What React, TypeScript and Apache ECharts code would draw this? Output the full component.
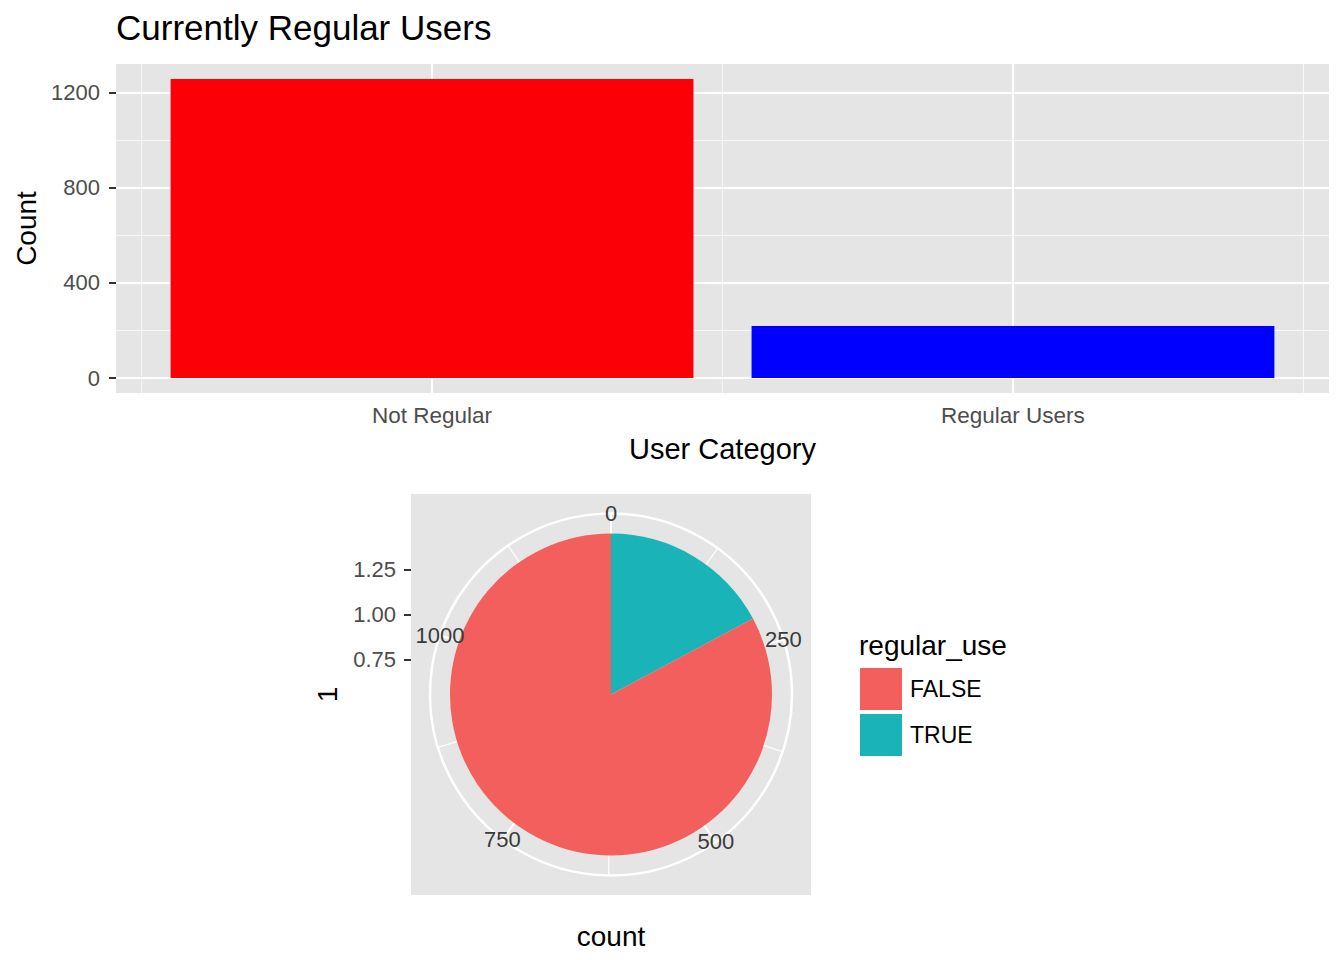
import React, { useEffect, useRef } from 'react';
import * as echarts from 'echarts';

// ---- Data: top bar chart ----
const barCategories = ['Not Regular', 'Regular Users'];
const barCounts = [1256, 219];
const barColors = ['#FB0007', '#0000FF'];
const barYMajor = [0, 400, 800, 1200];
const barYMinor = [200, 600, 1000];
const barXMajor = [1, 2];
const barXMinor = [0.5, 1.5, 2.5];

// ---- Data: pie (polar) chart ----
const pieGroups = ['FALSE', 'TRUE'];
const pieCounts = [1031, 214];
const pieColors = ['#F35F5C', '#1AB4B8'];
const thetaBreaks = [0, 250, 500, 750, 1000];
const rBreaks = [0.75, 1.0, 1.25];

const FONT = 'Liberation Sans';
const AXIS_TEXT = '#4D4D4D';
const PANEL = '#E5E5E5';

export default function App() {
  const ref = useRef<HTMLDivElement>(null);

  useEffect(() => {
    if (!ref.current) return;
    const chart = echarts.init(ref.current, null, { renderer: 'svg' });

    const yMaxBar = Math.max(...barCounts);
    const pieTotal = pieCounts.reduce((a, b) => a + b, 0);

    const majorLine = { color: '#FFFFFF', width: 2.2, type: 'solid' };
    const minorLine = { color: '#F7F7F7', width: 1.1, type: 'solid' };

    const option: any = {
      animation: false,
      backgroundColor: '#FFFFFF',
      textStyle: { fontFamily: FONT },
      title: [
        {
          text: 'Currently Regular Users',
          left: 116,
          top: 10,
          padding: 0,
          textStyle: { fontSize: 35, fontWeight: 'normal', color: '#000000', fontFamily: FONT },
        },
        {
          text: 'regular_use',
          left: 859,
          top: 631,
          padding: 0,
          textStyle: { fontSize: 28, fontWeight: 'normal', color: '#000000', fontFamily: FONT },
        },
      ],
      legend: {
        data: pieGroups,
        orient: 'vertical',
        left: 860,
        top: 668,
        padding: 0,
        itemWidth: 42,
        itemHeight: 42,
        itemGap: 4,
        icon: 'rect',
        selectedMode: false,
        textStyle: { fontSize: 23, color: '#000000', fontFamily: FONT, padding: [0, 0, 0, 3] },
      },
      grid: [
        { left: 116, top: 64, width: 1213, height: 329, show: true, backgroundColor: PANEL, borderWidth: 0 },
        { left: 411, top: 494, width: 400, height: 401, show: true, backgroundColor: PANEL, borderWidth: 0 },
      ],
      xAxis: [
        {
          gridIndex: 0,
          type: 'value',
          min: 0.456,
          max: 2.544,
          axisLine: { show: false },
          splitLine: { show: false },
          axisTick: { show: true, customValues: barXMajor, length: 7, lineStyle: { color: '#333333', width: 2 } },
          axisLabel: {
            show: true,
            customValues: barXMajor,
            formatter: (v: number) => barCategories[Math.round(v) - 1] ?? '',
            fontSize: 22.5,
            color: AXIS_TEXT,
            margin: 11,
          },
          name: 'User Category',
          nameLocation: 'middle',
          nameGap: 41,
          nameTextStyle: { fontSize: 29, color: '#000000' },
        },
        {
          gridIndex: 1,
          type: 'value',
          min: 0,
          max: 1,
          axisLine: { show: false },
          axisTick: { show: false },
          axisLabel: { show: false },
          splitLine: { show: false },
          name: 'count',
          nameLocation: 'middle',
          nameGap: 27,
          nameTextStyle: { fontSize: 28, color: '#000000' },
        },
      ],
      yAxis: [
        {
          gridIndex: 0,
          type: 'value',
          min: -0.05 * yMaxBar,
          max: 1.05 * yMaxBar,
          axisLine: { show: false },
          splitLine: { show: false },
          axisTick: { show: true, customValues: barYMajor, length: 7, lineStyle: { color: '#333333', width: 2 } },
          axisLabel: {
            show: true,
            customValues: barYMajor,
            formatter: (v: number) => String(v),
            fontSize: 22,
            color: AXIS_TEXT,
            margin: 16,
          },
          name: 'Count',
          nameLocation: 'middle',
          nameRotate: 90,
          nameGap: 69,
          nameTextStyle: { fontSize: 28, color: '#000000' },
        },
        {
          gridIndex: 1,
          type: 'value',
          min: -0.5583,
          max: 1.6694,
          axisLine: { show: false },
          splitLine: { show: false },
          axisTick: { show: true, customValues: rBreaks, length: 7, lineStyle: { color: '#333333', width: 2 } },
          axisLabel: {
            show: true,
            customValues: rBreaks,
            formatter: (v: number) => v.toFixed(2),
            fontSize: 22,
            color: AXIS_TEXT,
            margin: 15,
          },
          name: '1',
          nameLocation: 'middle',
          nameRotate: 90,
          nameGap: 70,
          nameTextStyle: { fontSize: 28, color: '#000000' },
        },
      ],
      polar: { center: [611, 694.5], radius: 181 },
      angleAxis: {
        type: 'value',
        min: 0,
        max: pieTotal,
        interval: 250,
        startAngle: 90,
        clockwise: true,
        axisLine: { show: true, lineStyle: { color: '#FFFFFF', width: 2.5 } },
        axisTick: { show: false },
        axisLabel: { show: false },
        splitLine: { show: true, lineStyle: { color: '#FFFFFF', width: 2 } },
        minorTick: { show: false, splitNumber: 2 },
        minorSplitLine: { show: true, lineStyle: { color: '#FFFFFF', width: 1.2 } },
      },
      radiusAxis: {
        type: 'value',
        min: 0,
        max: 1,
        axisLine: { show: false },
        axisTick: { show: false },
        axisLabel: { show: false },
        splitLine: { show: false },
      },
      series: [
        {
          name: 'grid-lines',
          type: 'line',
          xAxisIndex: 0,
          yAxisIndex: 0,
          data: [],
          silent: true,
          z: 1,
          markLine: {
            silent: true,
            z: 1,
            symbol: ['none', 'none'],
            label: { show: false },
            emphasis: { disabled: true },
            data: [
              ...barYMinor.map((v) => ({ yAxis: v, lineStyle: minorLine })),
              ...barXMinor.map((v) => ({ xAxis: v, lineStyle: minorLine })),
              ...barYMajor.map((v) => ({ yAxis: v, lineStyle: majorLine })),
              ...barXMajor.map((v) => ({ xAxis: v, lineStyle: majorLine })),
            ],
          },
        },
        {
          name: 'bars',
          type: 'custom',
          xAxisIndex: 0,
          yAxisIndex: 0,
          z: 3,
          silent: true,
          data: barCounts.map((c, i) => ({ value: [i + 1, c], itemStyle: { color: barColors[i] } })),
          renderItem: (params: any, api: any) => {
            const x = api.value(0);
            const y = api.value(1);
            const p0 = api.coord([x - 0.45, y]);
            const p1 = api.coord([x + 0.45, 0]);
            return {
              type: 'rect',
              shape: { x: p0[0], y: p0[1], width: p1[0] - p0[0], height: p1[1] - p0[1] },
              style: { fill: api.visual('color') },
            };
          },
        },
        {
          name: 'pie',
          type: 'pie',
          center: [611, 694.5],
          radius: 161,
          startAngle: 90,
          clockwise: true,
          silent: true,
          z: 3,
          label: { show: false },
          labelLine: { show: false },
          emphasis: { disabled: true },
          itemStyle: { borderWidth: 0 },
          data: [
            { name: pieGroups[1], value: pieCounts[1], itemStyle: { color: pieColors[1] } },
            { name: pieGroups[0], value: pieCounts[0], itemStyle: { color: pieColors[0] } },
          ],
        },
        {
          name: 'theta-labels',
          type: 'scatter',
          coordinateSystem: 'polar',
          symbolSize: 0,
          silent: true,
          z: 5,
          itemStyle: { opacity: 1 },
          data: thetaBreaks.map((b) => [1, b]),
          label: {
            show: true,
            position: 'inside',
            formatter: (p: any) => String(p.value[1]),
            fontSize: 22,
            color: '#3A3A3A',
            opacity: 1,
            fontFamily: FONT,
          },
        },
      ],
    };

    chart.setOption(option);
    return () => chart.dispose();
  }, []);

  return (
    <div
      ref={ref}
      style={{ position: 'absolute', left: 0, top: 0, width: 1344, height: 960, background: '#FFFFFF' }}
    />
  );
}
